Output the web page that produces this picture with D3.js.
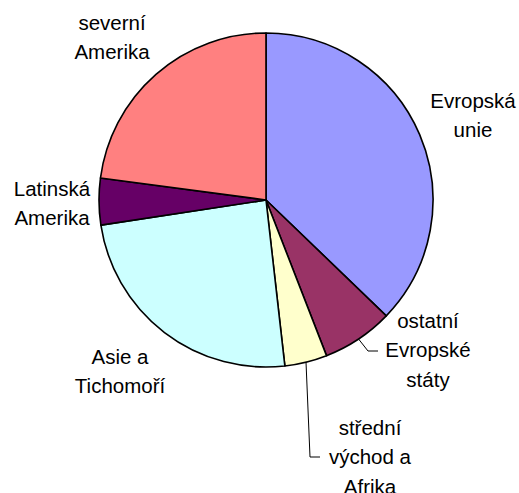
<!DOCTYPE html>
<html>
<head>
<meta charset="utf-8">
<script src="https://cdn.jsdelivr.net/npm/d3@7"></script>
<style>
  html, body { margin: 0; padding: 0; background: #fff; }
  svg { display: block; }
  text { font-family: "Liberation Sans", Arial, sans-serif; font-size: 20.5px; fill: #000; }
</style>
</head>
<body>
<script>
// Data
const categories = ["Evropská unie", "ostatní Evropské státy", "střední východ a Afrika", "Asie a Tichomoří", "Latinská Amerika", "severní Amerika"];
const values = [37.2, 6.9, 4.1, 24.4, 4.5, 22.9];
const colors = ["#9999FF", "#993366", "#FFFFCC", "#CCFFFF", "#660066", "#FF8080"];
const labelLines = [["Evropská", "unie"], ["ostatní", "Evropské", "státy"], ["střední", "východ a", "Afrika"], ["Asie a", "Tichomoří"], ["Latinská", "Amerika"], ["severní", "Amerika"]];

// Layout (not data)
const W = 519, H = 493;
const cx = 266, cy = 200, R = 167;
const lineH = 29.3;
// label centre x and first baseline y
const labelPos = [[473, 108], [428, 328], [370, 435], [120, 364], [52, 196], [112, 30]];
// leader lines: elbow point and end point
const leaders = { 1: [[368, 351], [378, 351]], 2: [[310, 457], [320, 457]] };

const svg = d3.select("body").append("svg").attr("width", W).attr("height", H);
const g = svg.append("g").attr("transform", `translate(${cx},${cy})`);

const pie = d3.pie().sort(null).value(d => d).startAngle(0).endAngle(2 * Math.PI);
const arcs = pie(values);
const arc = d3.arc().innerRadius(0).outerRadius(R);

g.selectAll("path.slice").data(arcs).join("path")
  .attr("class", "slice")
  .attr("d", arc)
  .attr("fill", (d, i) => colors[i])
  .attr("stroke", "#000")
  .attr("stroke-width", 1.6)
  .attr("stroke-linejoin", "round");

// leader lines
Object.keys(leaders).forEach(k => {
  const a = arcs[+k];
  const mid = (a.startAngle + a.endAngle) / 2;
  const sx = cx + R * Math.sin(mid), sy = cy - R * Math.cos(mid);
  const pts = [[sx, sy]].concat(leaders[k]);
  svg.append("path")
    .attr("d", d3.line()(pts))
    .attr("fill", "none")
    .attr("stroke", "#000")
    .attr("stroke-width", 1);
});

// labels
labelLines.forEach((lines, i) => {
  const t = svg.append("text").attr("text-anchor", "middle");
  lines.forEach((ln, j) => {
    t.append("tspan").attr("x", labelPos[i][0]).attr("y", labelPos[i][1] + j * lineH).text(ln);
  });
});
</script>
</body>
</html>
